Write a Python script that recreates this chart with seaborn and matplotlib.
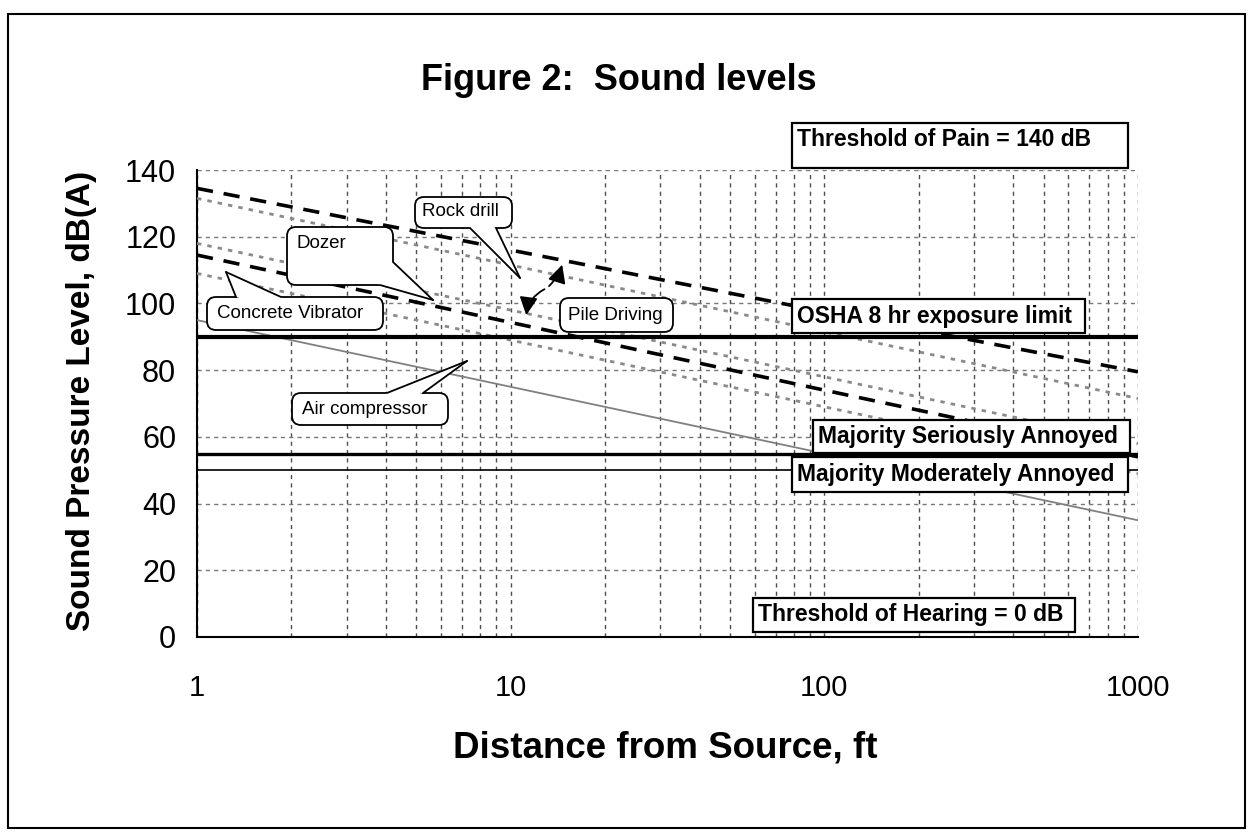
import matplotlib
matplotlib.use('Agg')
import matplotlib.pyplot as plt
import matplotlib.transforms as mtransforms
from matplotlib.patches import Rectangle, FancyBboxPatch, Polygon, FancyArrowPatch
from matplotlib.lines import Line2D
from matplotlib.ticker import NullFormatter
import pandas as pd
import seaborn as sns

W, H = 1251, 833

# Source levels, dB(A) at 1, 10, 100 and 1000 ft
DISTANCE_FT = [1, 10, 100, 1000]
PILE_DRIVING_UPPER = [134.5, 116.0, 97.5, 79.5]
ROCK_DRILL = [131.5, 111.5, 91.5, 71.5]
DOZER = [118.0, 98.0, 78.0, 58.0]
PILE_DRIVING_LOWER = [114.5, 94.3, 74.0, 54.0]
CONCRETE_VIBRATOR = [109.0, 89.0, 69.0, 49.0]
AIR_COMPRESSOR = [95.0, 75.0, 55.0, 35.0]

LIMIT_NAMES = ['OSHA 8 hr exposure limit', 'Majority Seriously Annoyed',
               'Majority Moderately Annoyed']
LIMIT_LEVELS = [90, 55, 50]

X_TICKS = [1, 10, 100, 1000]
X_TICK_LABELS = ['1', '10', '100', '1000']
Y_TICKS = [0, 20, 40, 60, 80, 100, 120, 140]

SANS = ['Liberation Sans', 'DejaVu Sans']

sns.set_style('white')
plt.rcParams['font.family'] = SANS
for key in ['text.color', 'axes.labelcolor', 'xtick.color', 'ytick.color']:
    plt.rcParams[key] = 'black'

series = {
    'Pile driving (upper)': PILE_DRIVING_UPPER,
    'Rock drill': ROCK_DRILL,
    'Dozer': DOZER,
    'Pile driving (lower)': PILE_DRIVING_LOWER,
    'Concrete vibrator': CONCRETE_VIBRATOR,
    'Air compressor': AIR_COMPRESSOR,
}
df = pd.concat([pd.DataFrame({'distance': DISTANCE_FT, 'level': v, 'source': k})
                for k, v in series.items()], ignore_index=True)

palette = {'Pile driving (upper)': 'black', 'Rock drill': '#8a8a8a', 'Dozer': '#8a8a8a',
           'Pile driving (lower)': 'black', 'Concrete vibrator': '#8a8a8a',
           'Air compressor': '#808080'}
dashes = {'Pile driving (upper)': (4.5, 3), 'Rock drill': (1.6, 2.2), 'Dozer': (1.6, 2.2),
          'Pile driving (lower)': (4.5, 3), 'Concrete vibrator': (1.6, 2.2),
          'Air compressor': ''}
sizes = {'Pile driving (upper)': 2.6, 'Rock drill': 2.0, 'Dozer': 2.0,
         'Pile driving (lower)': 2.6, 'Concrete vibrator': 2.0, 'Air compressor': 1.3}

fig = plt.figure(figsize=(W / 100, H / 100), dpi=100)
ax = fig.add_axes([197 / W, 1 - 637 / H, 941 / W, 467 / H])
ax.set_xscale('log')

sns.lineplot(data=df, x='distance', y='level', hue='source', palette=palette,
             style='source', dashes=dashes, size='source', sizes=sizes,
             legend=False, ax=ax, zorder=3)

for level, lw in zip(LIMIT_LEVELS, [3.0, 2.4, 1.2]):
    ax.axhline(level, color='black', lw=lw, zorder=4)

ax.set_xlim(1, 1000)
ax.set_ylim(0, 140)
ax.set_xticks(X_TICKS)
ax.set_xticklabels(X_TICK_LABELS)
ax.xaxis.set_minor_formatter(NullFormatter())
ax.set_yticks(Y_TICKS)
ax.grid(True, which='both', axis='x', color='#4d4d4d', linestyle=(0, (3, 3)), linewidth=1)
ax.grid(True, which='major', axis='y', color='#777777', linestyle=(0, (3, 3)), linewidth=1)
ax.set_axisbelow(True)
ax.tick_params(axis='x', which='major', length=7, width=1.3, pad=20, labelsize=21, direction='out')
ax.tick_params(axis='y', which='major', length=8, width=1.3, pad=7, labelsize=22, direction='out')
ax.tick_params(which='minor', length=0)
for side in ['top', 'right']:
    ax.spines[side].set_visible(False)
for side in ['left', 'bottom']:
    ax.spines[side].set_color('black')
    ax.spines[side].set_linewidth(1.5)

ax.set_xlabel('Distance from Source, ft', fontsize=26.5, fontweight='bold')
ax.xaxis.set_label_coords(0.498, -0.2)
ax.set_ylabel('Sound Pressure Level, dB(A)', fontsize=24, fontweight='bold')
ax.yaxis.set_label_coords(-0.106, 0.505)

# image-pixel transform (origin top-left)
T = mtransforms.Affine2D().scale(1 / W, -1 / H).translate(0, 1) + fig.transFigure

fig.text(619, 81, 'Figure 2:  Sound levels', transform=T, ha='center', va='center',
         fontsize=26, fontweight='bold')

# outer frame
fig.add_artist(Rectangle((8, 14), 1237, 814, transform=T, fill=False,
                         edgecolor='black', lw=1.5, zorder=20))


def label_box(x0, y0, x1, y1, text, ty=None):
    fig.add_artist(Rectangle((x0, y0), x1 - x0, y1 - y0, transform=T, facecolor='white',
                             edgecolor='black', lw=1.6, zorder=10))
    fig.text(x0 + 5, (y0 + y1) / 2 if ty is None else ty, text, transform=T, ha='left',
             va='center', fontsize=16.5, fontweight='bold', zorder=11)


label_box(792, 123, 1128, 168, 'Threshold of Pain = 140 dB', ty=139)
label_box(792, 299, 1085, 333, LIMIT_NAMES[0])
label_box(813, 420, 1130, 453, LIMIT_NAMES[1])
label_box(792, 457, 1128, 492, LIMIT_NAMES[2])
label_box(753, 598, 1075, 632, 'Threshold of Hearing = 0 dB')


def callout(box, text, tx, ty, base=None, tip=None):
    x0, y0, x1, y1 = box
    fig.add_artist(FancyBboxPatch((x0, y0), x1 - x0, y1 - y0,
                                  boxstyle='round,pad=0,rounding_size=9', transform=T,
                                  facecolor='white', edgecolor='black', lw=1.3, zorder=10))
    if base is not None:
        cx, cy = (x0 + x1) / 2, (y0 + y1) / 2
        inner = []
        for bx, by in base:
            dx, dy = cx - bx, cy - by
            n = (dx ** 2 + dy ** 2) ** 0.5
            inner.append((bx + 4 * dx / n, by + 4 * dy / n))
        fig.add_artist(Polygon([base[0], tip, base[1], inner[1], inner[0]], closed=True,
                               transform=T, facecolor='white', edgecolor='none', zorder=11))
        for bx, by in base:
            fig.add_artist(Line2D([bx, tip[0]], [by, tip[1]], transform=T, color='black',
                                  lw=1.3, zorder=12))
    fig.text(tx, ty, text, transform=T, ha='left', va='center', fontsize=13.5, zorder=13)


callout((415, 197, 512, 228), 'Rock drill', 422, 212, [(470, 228), (496, 228)], (520, 278))
callout((287, 227, 393, 285), 'Dozer', 296, 244, [(393, 262), (380, 285)], (433, 300))
callout((207, 297, 383, 330), 'Concrete Vibrator', 217, 314, [(236, 297), (281, 297)], (226, 272))
callout((292, 393, 448, 425), 'Air compressor', 302, 410, [(387, 393), (423, 393)], (467, 361))
callout((560, 298, 673, 332), 'Pile Driving', 568, 315)

for end, rad in [((563, 262), 0.15), ((526, 318), 0.3)]:
    fig.add_artist(FancyArrowPatch((547, 288), end, transform=T,
                                   arrowstyle='-|>,head_length=0.5,head_width=0.25',
                                   connectionstyle=f'arc3,rad={rad}', mutation_scale=22,
                                   color='black', lw=1.3, zorder=12))

fig.savefig('out.png', dpi=100)
